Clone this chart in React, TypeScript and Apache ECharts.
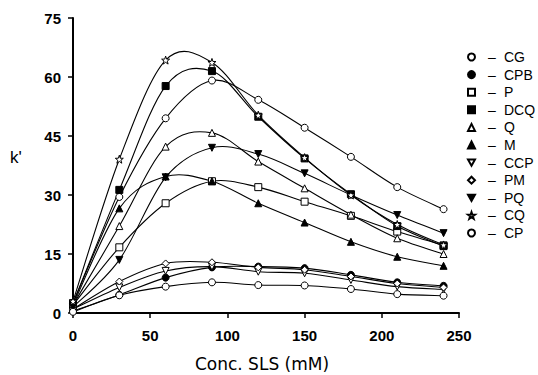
import React, { useEffect, useRef } from "react";
import * as echarts from "echarts";

const concentrations = [0, 30, 60, 90, 120, 150, 180, 210, 240];

const CG = [2.5, 29.5, 49.5, 59.1, 54.2, 47.1, 39.7, 32.0, 26.4];
const CPB = [0.5, 4.6, 9.0, 11.6, 11.8, 11.4, 9.7, 7.8, 6.9];
const P = [2.0, 16.7, 27.9, 33.5, 32.0, 28.3, 24.7, 20.7, 17.2];
const DCQ = [2.5, 31.3, 57.7, 61.5, 49.9, 39.3, 30.2, 22.1, 17.0];
const Q = [2.0, 22.1, 42.3, 45.8, 38.5, 31.7, 25.0, 19.0, 15.0];
const M = [2.0, 26.6, 34.7, 33.5, 27.9, 23.0, 18.1, 14.3, 12.0];
const CCP = [1.0, 6.5, 10.7, 11.8, 10.5, 10.1, 8.4, 6.7, 6.0];
const PM = [1.0, 8.0, 12.6, 12.9, 11.6, 11.0, 9.3, 7.5, 6.5];
const PQ = [1.5, 13.5, 34.5, 42.0, 40.4, 35.5, 30.0, 24.9, 20.3];
const CQ = [3.0, 39.1, 64.3, 63.7, 50.3, 39.5, 30.0, 22.5, 17.3];
const CP = [0.3, 4.5, 6.7, 7.8, 7.1, 7.0, 6.1, 4.8, 4.4];

const xTicks = [0, 50, 100, 150, 200, 250];
const yTicks = [0, 15, 30, 45, 60, 75];

const DOWN_TRI = "path://M0,0L10,0L5,9Z";
const STAR =
  "path://M5,0L6.2,3.6L10,3.7L7,6L8.1,9.6L5,7.5L1.9,9.6L3,6L0,3.7L3.8,3.6Z";

const seriesDefs = [
  { name: "CG", values: CG, symbol: "circle", filled: false },
  { name: "CPB", values: CPB, symbol: "circle", filled: true },
  { name: "P", values: P, symbol: "rect", filled: false },
  { name: "DCQ", values: DCQ, symbol: "rect", filled: true },
  { name: "Q", values: Q, symbol: "triangle", filled: false },
  { name: "M", values: M, symbol: "triangle", filled: true },
  { name: "CCP", values: CCP, symbol: DOWN_TRI, filled: false },
  { name: "PM", values: PM, symbol: "diamond", filled: false },
  { name: "PQ", values: PQ, symbol: DOWN_TRI, filled: true },
  { name: "CQ", values: CQ, symbol: STAR, filled: false },
  { name: "CP", values: CP, symbol: "circle", filled: false },
];

function curveSeries(values: number[], id: string) {
  const n = values.length;
  return {
    id,
    type: "custom",
    silent: true,
    z: 1,
    data: concentrations.slice(0, n - 1).map((c, i) => [c, values[i]]),
    encode: { x: 0, y: 1 },
    renderItem: (params: any, api: any) => {
      const i = params.dataIndex;
      if (i >= n - 1) return null;
      const pt = (k: number) => api.coord([concentrations[k], values[k]]);
      const p0 = pt(Math.max(i - 1, 0));
      const p1 = pt(i);
      const p2 = pt(i + 1);
      const p3 = pt(Math.min(i + 2, n - 1));
      return {
        type: "bezierCurve",
        shape: {
          x1: p1[0],
          y1: p1[1],
          x2: p2[0],
          y2: p2[1],
          cpx1: p1[0] + (p2[0] - p0[0]) / 6,
          cpy1: p1[1] + (p2[1] - p0[1]) / 6,
          cpx2: p2[0] - (p3[0] - p1[0]) / 6,
          cpy2: p2[1] - (p3[1] - p1[1]) / 6,
        },
        style: { stroke: "#000", lineWidth: 1.1, fill: null },
      };
    },
  };
}

export default function App() {
  const ref = useRef<HTMLDivElement>(null);
  useEffect(() => {
    if (!ref.current) return;
    const chart = echarts.init(ref.current, null, { renderer: "svg" });
    const font = "'Liberation Sans', Arial, sans-serif";
    const series: any[] = [];
    seriesDefs.forEach((s) => {
      series.push(curveSeries(s.values, "curve-" + s.name));
    });
    seriesDefs.forEach((s) => {
      series.push({
        name: s.name,
        type: "scatter",
        z: 3,
        symbol: s.symbol,
        symbolSize: s.symbol === STAR ? 8 : 7,
        data: concentrations.map((c, i) => [c, s.values[i]]),
        itemStyle: {
          color: s.filled ? "#000" : "#fff",
          borderColor: "#000",
          borderWidth: 1,
          opacity: 1,
        },
        emphasis: { disabled: true },
      });
    });
    chart.setOption({
      animation: false,
      backgroundColor: "#fff",
      grid: { left: 73, right: 79, top: 18, bottom: 62 },
      xAxis: {
        type: "value",
        min: 0,
        max: 250,
        interval: 50,
        axisLine: { show: true, lineStyle: { color: "#000", width: 2 } },
        axisTick: { show: true, length: 5, lineStyle: { color: "#000", width: 1.5 } },
        splitLine: { show: false },
        axisLabel: {
          color: "#000",
          fontFamily: font,
          fontWeight: "bold",
          fontSize: 15,
          margin: 15,
          formatter: (v: number) => (xTicks.includes(v) ? String(v) : ""),
        },
      },
      yAxis: {
        type: "value",
        min: 0,
        max: 75,
        interval: 15,
        axisLine: { show: true, lineStyle: { color: "#000", width: 2 } },
        axisTick: { show: true, length: 5, lineStyle: { color: "#000", width: 1.5 } },
        splitLine: { show: false },
        axisLabel: {
          color: "#000",
          fontFamily: font,
          fontWeight: "bold",
          fontSize: 15,
          margin: 12,
          formatter: (v: number) => (yTicks.includes(v) ? String(v) : ""),
        },
      },
      legend: {
        orient: "vertical",
        left: 462,
        top: 45,
        itemWidth: 7,
        itemHeight: 7,
        itemGap: 3.6,
        data: seriesDefs.map((s) => ({ name: s.name, icon: s.symbol })),
        formatter: (name: string) => `{d|–}{n|${name}}`,
        textStyle: {
          color: "#000",
          fontFamily: font,
          fontSize: 14,
          rich: {
            d: { width: 24, align: "center", fontSize: 14, fontFamily: font, color: "#000" },
            n: { fontSize: 14, fontFamily: font, color: "#000" },
          },
        },
      },
      graphic: [
        {
          type: "text",
          left: 10,
          top: 149,
          style: { text: "k'", fontFamily: font, fontSize: 17, fill: "#000" },
        },
        {
          type: "text",
          x: 262,
          y: 364,
          style: {
            text: "Conc. SLS (mM)",
            fontFamily: "'DejaVu Sans', sans-serif",
            fontSize: 17,
            fill: "#000",
            textAlign: "center",
            textVerticalAlign: "middle",
          },
        },
      ],
      series,
    });
    return () => chart.dispose();
  }, []);
  return (
    <div
      ref={ref}
      style={{ position: "fixed", left: 0, top: 0, width: 538, height: 375 }}
    />
  );
}
